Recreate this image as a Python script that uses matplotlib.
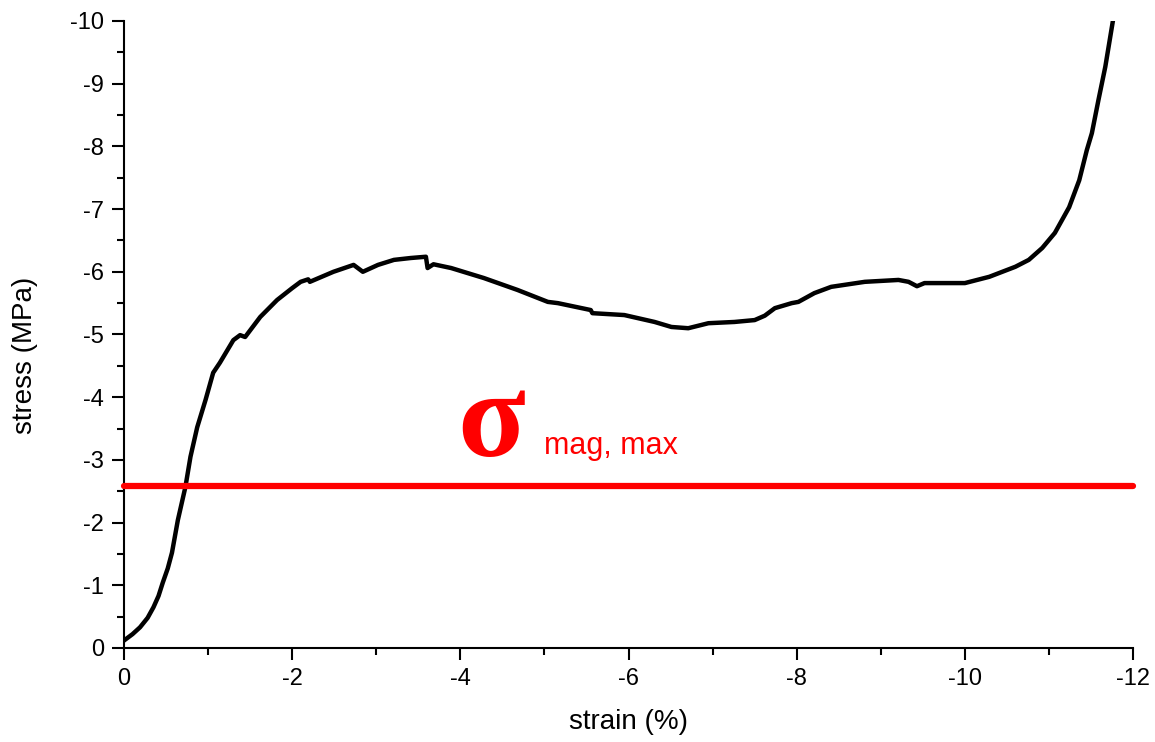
import matplotlib.pyplot as plt
from matplotlib.ticker import MultipleLocator

# strain (%) and stress (MPa)
strain = [-0.01, -0.10, -0.19, -0.28, -0.35, -0.41, -0.46, -0.52, -0.57, -0.64,
          -0.73, -0.79, -0.87, -0.97, -1.06, -1.14, -1.30, -1.38, -1.44, -1.62,
          -1.82, -2.00, -2.10, -2.19, -2.21, -2.49, -2.73, -2.84, -3.02, -3.21,
          -3.41, -3.59, -3.61, -3.68, -3.89, -4.28, -4.68, -5.04, -5.16, -5.55,
          -5.57, -5.95, -6.31, -6.51, -6.71, -6.95, -7.26, -7.50, -7.62, -7.74,
          -7.94, -8.02, -8.21, -8.41, -8.81, -9.21, -9.33, -9.43, -9.52, -9.81,
          -10.00, -10.29, -10.60, -10.76, -10.92, -11.07, -11.24, -11.36,
          -11.45, -11.51, -11.59, -11.67, -11.76]
stress = [-0.13, -0.22, -0.33, -0.48, -0.65, -0.83, -1.04, -1.27, -1.52, -2.04,
          -2.57, -3.05, -3.52, -3.96, -4.39, -4.55, -4.91, -4.99, -4.96, -5.28,
          -5.55, -5.74, -5.84, -5.88, -5.84, -6.00, -6.11, -6.00, -6.11, -6.19,
          -6.22, -6.24, -6.06, -6.12, -6.06, -5.90, -5.71, -5.52, -5.50, -5.39,
          -5.34, -5.31, -5.20, -5.12, -5.10, -5.18, -5.20, -5.23, -5.30, -5.42,
          -5.50, -5.52, -5.66, -5.76, -5.84, -5.87, -5.84, -5.77, -5.82, -5.82,
          -5.82, -5.92, -6.08, -6.19, -6.38, -6.62, -7.03, -7.46,
          -7.94, -8.21, -8.75, -9.27, -10.0]

sigma_mag_max = -2.58
line_x = [0, -12]

plt.rcParams['font.family'] = ['Liberation Sans', 'DejaVu Sans']
plt.rcParams['axes.unicode_minus'] = False

fig = plt.figure(figsize=(11.55, 7.42), dpi=100)
ax = fig.add_axes([0.1074, 0.1267, 0.8736, 0.845])

ax.plot(strain, stress, color='black', linewidth=3.2, solid_joinstyle='round')
ax.plot(line_x, [sigma_mag_max, sigma_mag_max], color='#ff0000', linewidth=4.5,
        solid_capstyle='round', clip_on=False, zorder=3)

ax.text(-3.96, -3.06, 'σ', color='#ff0000', fontsize=90, fontweight='bold',
        family='Liberation Serif', ha='left', va='baseline')
ax.text(-5.0, -3.1, 'mag, max', color='#ff0000', fontsize=22,
        ha='left', va='baseline')

ax.set_xlim(0, -12)
ax.set_ylim(0, -10)
ax.xaxis.set_major_locator(MultipleLocator(2))
ax.xaxis.set_minor_locator(MultipleLocator(1))
ax.yaxis.set_major_locator(MultipleLocator(1))
ax.yaxis.set_minor_locator(MultipleLocator(0.5))

for side in ['top', 'right']:
    ax.spines[side].set_visible(False)
for side in ['left', 'bottom']:
    ax.spines[side].set_linewidth(1.5)

ax.tick_params(which='major', direction='out', length=8.5, width=1.5,
               labelsize=17, pad=6)
ax.tick_params(which='minor', direction='out', length=5, width=1.5)

ax.set_xlabel('strain (%)', fontsize=20)
ax.set_ylabel('stress (MPa)', fontsize=20)
ax.xaxis.set_label_coords(0.5, -0.118)
ax.xaxis.label.set_va('center')
ax.yaxis.set_label_coords(-0.098, 0.467)
ax.yaxis.label.set_va('center')

fig.savefig('out.png', dpi=100)
